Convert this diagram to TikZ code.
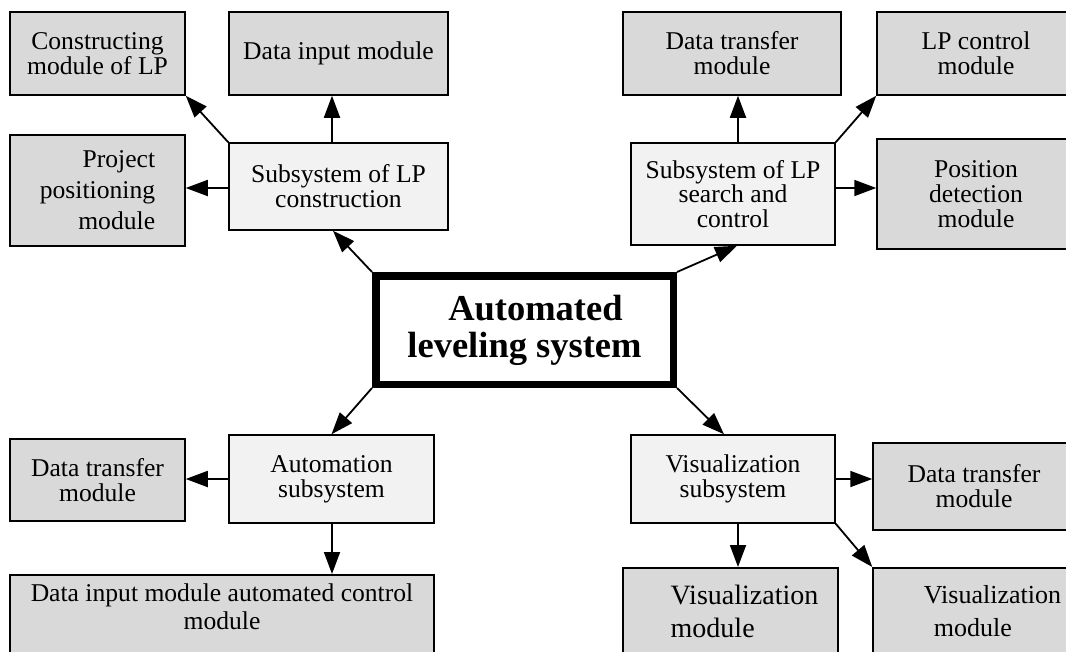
\documentclass[tikz,border=0pt]{standalone}
\usepackage{fontspec}
\setmainfont{Liberation Serif}
\usetikzlibrary{arrows.meta,calc}
\definecolor{modgray}{HTML}{D9D9D9}
\definecolor{subgray}{HTML}{F2F2F2}
\tikzset{
  module/.style={draw, fill=modgray, line width=1.5pt, align=center, inner sep=0pt,
    font=\fontsize{25.6}{24.8}\selectfont},
  subsys/.style={module, fill=subgray},
  core/.style={draw, fill=white, line width=7.5pt, align=center, inner sep=0pt,
    font=\bfseries\fontsize{36.5}{37}\selectfont},
  arr/.style={-{Triangle[length=22pt,width=16pt]}, line width=1.8pt},
}
\begin{document}
\begin{tikzpicture}[x=1pt,y=-1pt]
\useasboundingbox (0,0) rectangle (1066,651);
\fill[white] (0,0) rectangle (1066,651);
\clip (0,0) rectangle (1066,651);

% subsystem of LP construction and its modules
\node[module, minimum width=175pt, minimum height=83pt] (cons) at (97.5,53.5) {Constructing\\module of LP};
\node[module, minimum width=219pt, minimum height=83pt] (din) at (338.5,53.5) {Data input module};
\node[module, minimum width=175pt, minimum height=111pt, align=right,
      font=\fontsize{25.6}{31}\selectfont] (proj) at (97.5,190.5) {Project\\positioning\\module};
\node[subsys, minimum width=219pt, minimum height=87pt] (subc) at (338.5,186.5) {Subsystem of LP\\construction};

% subsystem of LP search and control and its modules
\node[module, minimum width=218pt, minimum height=83pt] (dtr1) at (732,53.5) {Data transfer\\module};
\node[module, minimum width=198pt, minimum height=83pt] (lpc) at (976,53.5) {LP control\\module};
\node[subsys, minimum width=204pt, minimum height=102pt] (subs) at (733,194) {Subsystem of LP\\search and\\control};
\node[module, minimum width=198pt, minimum height=110pt] (pos) at (976,194) {Position\\detection\\module};

% central system
\node[core, minimum width=297.5pt, minimum height=108.5pt] (sys) at (524.5,330)
  {\hspace*{0.6em}Automated\\leveling system};

% automation subsystem
\node[module, minimum width=175pt, minimum height=82pt] (dtr2) at (97.5,480) {Data transfer\\module};
\node[subsys, minimum width=205pt, minimum height=88pt] (auto) at (331.5,479) {Automation\\subsystem};
\node[module, anchor=north, minimum width=424pt, inner ysep=9pt, text depth=100pt,
      font=\fontsize{25.6}{28}\selectfont] (dinc) at (222,574)
  {Data input module automated control\\module};

% visualization subsystem
\node[subsys, minimum width=204pt, minimum height=88pt] (vis) at (733,479) {Visualization\\subsystem};
\node[module, minimum width=202pt, minimum height=87pt] (dtr3) at (974,486.5) {Data transfer\\module};
\node[module, anchor=north, minimum width=215pt, inner ysep=17pt, text depth=100pt, align=left,
      font=\fontsize{28}{33}\selectfont] (vm1) at (730.5,567)
  {\hspace*{28pt}Visualization\\\hspace*{28pt}module};
\node[module, anchor=north, minimum width=202pt, inner ysep=18pt, text depth=100pt, align=left,
      font=\fontsize{26}{33}\selectfont] (vm2) at (974,567)
  {\hspace*{37pt}Visualization\\\hspace*{47pt}module};

% connectors
\draw[arr] (subc.north west) -- (cons.south east);
\draw[arr] ([xshift=-6.5pt]subc.north) -- ([xshift=-6.5pt]din.south);
\draw[arr] ([yshift=-1.5pt]subc.west) -- ([yshift=-1.5pt]subc.west -| proj.east);
\draw[arr] ([xshift=5pt]subs.north) -- ([xshift=5pt]subs.north |- dtr1.south);
\draw[arr] (subs.north east) -- (lpc.south west);
\draw[arr] ([yshift=6pt]subs.east) -- ([yshift=6pt]subs.east -| pos.west);
\draw[arr] (sys.north west) -- ([xshift=-5.5pt]subc.south);
\draw[arr] (sys.north east) -- ([xshift=4pt]subs.south);
\draw[arr] (sys.south west) -- (auto.north);
\draw[arr] (sys.south east) -- ([xshift=-9pt]vis.north);
\draw[arr] (auto.west) -- (auto.west -| dtr2.east);
\draw[arr] ([xshift=0.5pt]auto.south) -- ([xshift=0.5pt]auto.south |- dinc.north);
\draw[arr] (vis.east) -- (vis.east -| dtr3.west);
\draw[arr] ([xshift=5pt]vis.south) -- ([xshift=5pt]vis.south |- vm1.north);
\draw[arr] (vis.south east) -- (vm2.north west);
\end{tikzpicture}
\end{document}
